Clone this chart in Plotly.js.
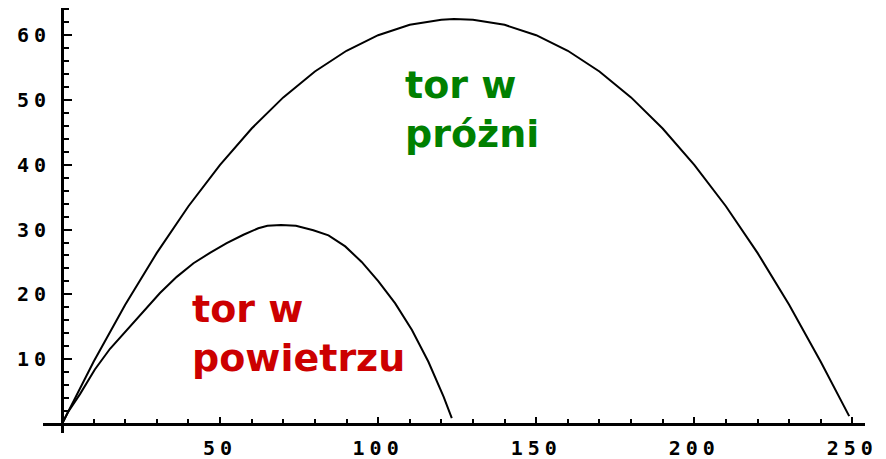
<!DOCTYPE html>
<html>
<head>
<meta charset="utf-8">
<script src="https://cdn.plot.ly/plotly-3.0.1.min.js"></script>
<style>html,body{margin:0;padding:0;background:#fff;}#chart{width:886px;height:459px;}</style>
</head>
<body>
<div id="chart"></div>
<script>
// Trajectory in vacuum
var vacX = [0, 4, 10, 20, 30, 40, 50, 60, 70, 80, 90, 100, 110, 120, 124, 130, 140, 150, 160, 170, 180, 190, 200, 210, 220, 230, 240, 249];
var vacY = [0, 3.9, 9.6, 18.4, 26.4, 33.6, 40, 45.6, 50.4, 54.4, 57.6, 60, 61.6, 62.4, 62.5, 62.4, 61.6, 60, 57.6, 54.4, 50.4, 45.6, 40, 33.6, 26.4, 18.4, 9.6, 1.2];
// Trajectory in air
var airX = [0, 2, 5.7, 10.4, 15.2, 20.5, 25.7, 31, 36.3, 41.6, 46.8, 52.1, 57.4, 62.1, 65, 69.3, 74, 79.5, 84.3, 89.6, 94.8, 100.1, 105.4, 110.7, 115.9, 120.7, 123.3];
var airY = [0, 1.9, 4.6, 8.4, 11.6, 14.5, 17.3, 20.2, 22.7, 24.8, 26.4, 27.9, 29.2, 30.2, 30.6, 30.7, 30.6, 29.9, 29.1, 27.4, 25.0, 22.0, 18.6, 14.5, 9.6, 4.2, 0.9];

var xTickVals = [50, 100, 150, 200, 250];
var xTickLabels = ['50', '100', '150', '200', '250'];
var yTickVals = [10, 20, 30, 40, 50, 60];
var yTickLabels = ['10', '20', '30', '40', '50', '60'];

var labelVacuum = 'tor w<br>próżni';
var labelAir = 'tor w<br>powietrzu';

var xr = [-6, 254];
var yr = [-1.4, 64.2];

function spaced(t) { return '<span style="letter-spacing:5px">' + t + '</span>'; }

var tickFont = {family: 'DejaVu Sans Mono', size: 20, color: '#000', weight: 'bold'};

var traces = [
  {x: vacX, y: vacY, type: 'scatter', mode: 'lines', line: {color: '#000', width: 2}, hoverinfo: 'skip'},
  {x: airX, y: airY, type: 'scatter', mode: 'lines', line: {color: '#000', width: 2}, hoverinfo: 'skip'}
];

var layout = {
  width: 886, height: 459,
  margin: {l: 43, r: 21, t: 8, b: 26},
  paper_bgcolor: '#fff', plot_bgcolor: '#fff',
  showlegend: false,
  xaxis: {
    range: xr, showgrid: false, zeroline: false,
    anchor: 'free', position: (0 - yr[0]) / (yr[1] - yr[0]),
    showline: true, linecolor: '#000', linewidth: 3,
    tickmode: 'array', tickvals: xTickVals, ticktext: xTickLabels.map(spaced),
    ticks: 'inside', ticklen: 6, tickwidth: 2, tickcolor: '#000',
    ticklabelstandoff: 5,
    tickfont: tickFont,
    minor: {tick0: 0, dtick: 10, ticks: 'inside', ticklen: 4, tickwidth: 2, tickcolor: '#000', showgrid: false}
  },
  yaxis: {
    range: yr, showgrid: false, zeroline: false,
    anchor: 'free', position: (0 - xr[0]) / (xr[1] - xr[0]),
    showline: true, linecolor: '#000', linewidth: 3,
    tickmode: 'array', tickvals: yTickVals, ticktext: yTickLabels.map(spaced),
    ticks: 'inside', ticklen: 8, tickwidth: 2, tickcolor: '#000',
    ticklabelstandoff: 6,
    tickfont: tickFont,
    minor: {tick0: 0, dtick: 2, ticks: 'inside', ticklen: 5, tickwidth: 2, tickcolor: '#000', showgrid: false}
  },
  annotations: [
    {x: 108.0, y: 48.6, xref: 'x', yref: 'y', xanchor: 'left', yanchor: 'middle', align: 'left',
     text: labelVacuum, showarrow: false,
     font: {family: 'DejaVu Sans', size: 38, color: '#008000', weight: 'bold'}},
    {x: 40.4, y: 13.9, xref: 'x', yref: 'y', xanchor: 'left', yanchor: 'middle', align: 'left',
     text: labelAir, showarrow: false,
     font: {family: 'DejaVu Sans', size: 38, color: '#CC0000', weight: 'bold'}}
  ]
};

Plotly.newPlot('chart', traces, layout, {staticPlot: true, displayModeBar: false});
</script>
</body>
</html>
